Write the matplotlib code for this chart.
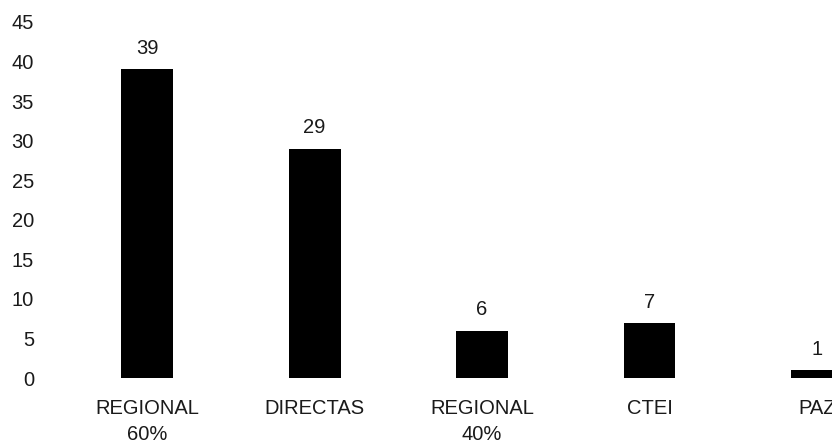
import matplotlib

matplotlib.use("Agg")

import matplotlib.pyplot as plt

categories = ["REGIONAL\n60%", "DIRECTAS", "REGIONAL\n40%", "CTEI", "PAZ"]
values = [39, 29, 6, 7, 1]
y_ticks = [0, 5, 10, 15, 20, 25, 30, 35, 40, 45]

TEXT = "#1a1a1a"
FONT = "Liberation Sans"
SIZE = 14.5

fig = plt.figure(figsize=(8.32, 4.43), dpi=100, facecolor="white")
ax = fig.add_axes([45 / 832, 65 / 443, 1 - 45 / 832, (421 - 65) / 443])

x = list(range(len(categories)))
bars = ax.bar(x, values, width=0.31, color="black")

for rect, value in zip(bars, values):
    ax.annotate(
        str(value),
        (rect.get_x() + rect.get_width() / 2, rect.get_height()),
        xytext=(0, 8),
        textcoords="offset points",
        ha="center",
        va="bottom",
        fontsize=SIZE,
        family=FONT,
        color=TEXT,
    )

ax.set_xlim(-0.61, 4.09)
ax.set_ylim(0, 45)
ax.set_yticks(y_ticks)
ax.set_xticks(x, categories)
for label in ax.get_xticklabels():
    label.set_linespacing(1.5)
ax.tick_params(axis="x", length=0, pad=15, labelsize=SIZE, colors=TEXT)
ax.tick_params(axis="y", length=0, pad=8, labelsize=SIZE, colors=TEXT)
for label in ax.get_xticklabels() + ax.get_yticklabels():
    label.set_family(FONT)
for spine in ax.spines.values():
    spine.set_visible(False)
ax.set_facecolor("white")

fig.savefig("out.png", dpi=100, facecolor="white")
